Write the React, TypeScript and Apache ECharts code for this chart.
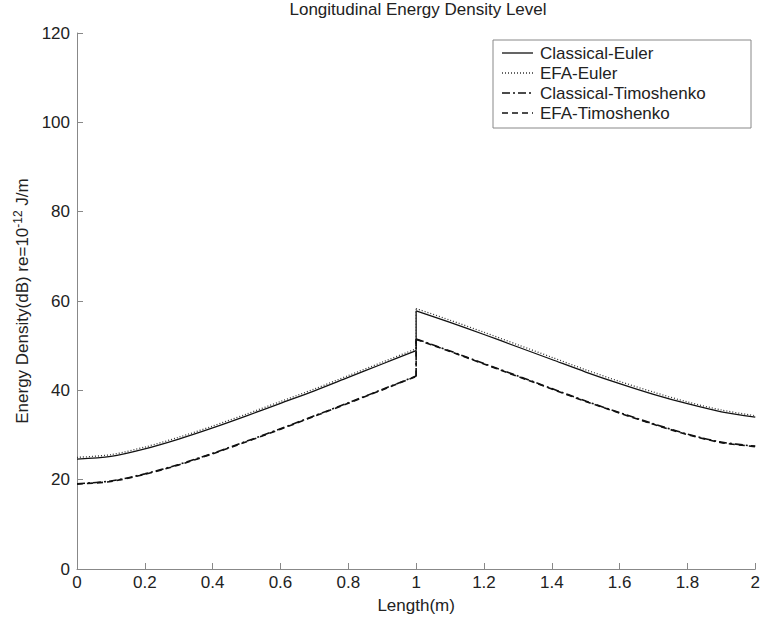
import React, { useEffect, useRef } from "react";
import * as echarts from "echarts";

const xLeft = [0, 0.1, 0.2, 0.3, 0.4, 0.5, 0.6, 0.7, 0.8, 0.9, 1.0];
const xRight = [1.0, 1.1, 1.2, 1.3, 1.4, 1.5, 1.6, 1.7, 1.8, 1.9, 2.0];

const classicalEulerLeft = [24.6, 25.2, 26.9, 29.1, 31.6, 34.3, 37.1, 39.9, 42.9, 45.9, 48.9];
const classicalEulerRight = [57.8, 55.2, 52.5, 49.7, 46.9, 44.1, 41.5, 39.1, 37.0, 35.2, 34.0];
const efaEulerLeft = [25.0, 25.6, 27.3, 29.5, 32.0, 34.7, 37.5, 40.3, 43.3, 46.3, 49.3];
const efaEulerRight = [58.3, 55.7, 53.0, 50.2, 47.4, 44.6, 42.0, 39.6, 37.4, 35.6, 34.3];
const classicalTimoLeft = [19.1, 19.7, 21.3, 23.4, 25.9, 28.6, 31.4, 34.3, 37.2, 40.2, 43.2];
const classicalTimoRight = [51.5, 48.8, 46.0, 43.2, 40.4, 37.6, 35.0, 32.5, 30.2, 28.4, 27.5];
const efaTimoLeft = [19.0, 19.6, 21.2, 23.3, 25.8, 28.5, 31.3, 34.2, 37.1, 40.1, 43.1];
const efaTimoRight = [51.4, 48.7, 45.9, 43.1, 40.3, 37.5, 34.9, 32.4, 30.1, 28.3, 27.4];

const seriesNames = ["Classical-Euler", "EFA-Euler", "Classical-Timoshenko", "EFA-Timoshenko"];
const seriesDashes: (number[] | null)[] = [null, [1, 2], [8, 3, 2, 3], [6, 4]];
const seriesColors = ["#111", "#333", "#111", "#111"];
const seriesWidths = [1.3, 1.3, 1.6, 1.6];
const seriesLeft = [classicalEulerLeft, efaEulerLeft, classicalTimoLeft, efaTimoLeft];
const seriesRight = [classicalEulerRight, efaEulerRight, classicalTimoRight, efaTimoRight];

export default function App() {
  const ref = useRef<HTMLDivElement>(null);
  useEffect(() => {
    if (!ref.current) return;
    const chart = echarts.init(ref.current, null, { renderer: "svg" });
    const font = "Liberation Sans, Arial, sans-serif";

    const series: any[] = [];
    seriesNames.forEach((name, i) => {
      const lineStyle = {
        color: seriesColors[i],
        width: seriesWidths[i],
        type: seriesDashes[i] || "solid",
      };
      const base = {
        name,
        type: "line",
        symbol: "none",
        showSymbol: false,
        lineStyle,
        itemStyle: { color: seriesColors[i] },
      };
      const left = seriesLeft[i];
      const right = seriesRight[i];
      series.push({ ...base, smooth: 0.3, data: xLeft.map((x, k) => [x, left[k]]) });
      series.push({
        ...base,
        smooth: false,
        data: [
          [xLeft[xLeft.length - 1], left[left.length - 1]],
          [xRight[0], right[0]],
        ],
      });
      series.push({ ...base, smooth: 0.3, data: xRight.map((x, k) => [x, right[k]]) });
    });

    // legend drawn as graphic (box, line samples, texts)
    const boxX = 493, boxY = 40, boxW = 258, boxH = 88;
    const rowY = [53, 73, 93, 113];
    const legendEls: any[] = [
      {
        type: "rect",
        shape: { x: boxX, y: boxY, width: boxW, height: boxH },
        style: { fill: "#fff", stroke: "#888", lineWidth: 1 },
        z: 10,
      },
    ];
    seriesNames.forEach((n, i) => {
      legendEls.push({
        type: "line",
        shape: { x1: boxX + 9, y1: rowY[i], x2: boxX + 40, y2: rowY[i] },
        style: {
          stroke: seriesColors[i],
          lineWidth: seriesWidths[i],
          lineDash: seriesDashes[i] || undefined,
        },
        z: 11,
      });
      legendEls.push({
        type: "text",
        x: boxX + 47,
        y: rowY[i],
        style: {
          text: n,
          fill: "#222",
          font: "17px " + font,
          verticalAlign: "middle",
          textVerticalAlign: "middle",
        },
        z: 11,
      });
    });

    chart.setOption({
      animation: false,
      backgroundColor: "#ffffff",
      textStyle: { fontFamily: font },
      title: {
        text: "Longitudinal Energy Density Level",
        left: 418,
        textAlign: "center",
        top: 1,
        padding: 0,
        textStyle: { fontSize: 17, fontWeight: "normal", color: "#222", fontFamily: font },
      },
      graphic: legendEls,
      grid: { left: 77, right: 6, top: 33, bottom: 52 },
      xAxis: {
        type: "value",
        min: 0,
        max: 2,
        interval: 0.2,
        name: "Length(m)",
        nameLocation: "middle",
        nameGap: 28,
        nameTextStyle: { fontSize: 17, color: "#222", fontFamily: font },
        axisLine: { show: true, lineStyle: { color: "#888", width: 1 } },
        axisTick: { show: true, inside: true, length: 6, lineStyle: { color: "#888" } },
        axisLabel: { fontSize: 17, color: "#222", margin: 5, fontFamily: font },
        splitLine: { show: false },
      },
      yAxis: {
        type: "value",
        min: 0,
        max: 120,
        interval: 20,
        name: "Energy Density(dB) re=10{sup|-12} J/m",
        nameLocation: "middle",
        nameGap: 31,
        nameRotate: 90,
        nameTextStyle: {
          fontSize: 17,
          color: "#222",
          fontFamily: font,
          rich: {
            sup: { fontSize: 12, color: "#222", fontFamily: font, padding: [0, 0, 9, 0] },
          },
        },
        axisLine: { show: true, lineStyle: { color: "#888", width: 1 } },
        axisTick: { show: true, inside: true, length: 6, lineStyle: { color: "#888" } },
        axisLabel: { fontSize: 17, color: "#222", margin: 7, fontFamily: font },
        splitLine: { show: false },
      },
      series,
    });
    return () => chart.dispose();
  }, []);
  return (
    <div
      ref={ref}
      style={{ position: "absolute", left: 0, top: 0, width: 763, height: 621 }}
    />
  );
}
